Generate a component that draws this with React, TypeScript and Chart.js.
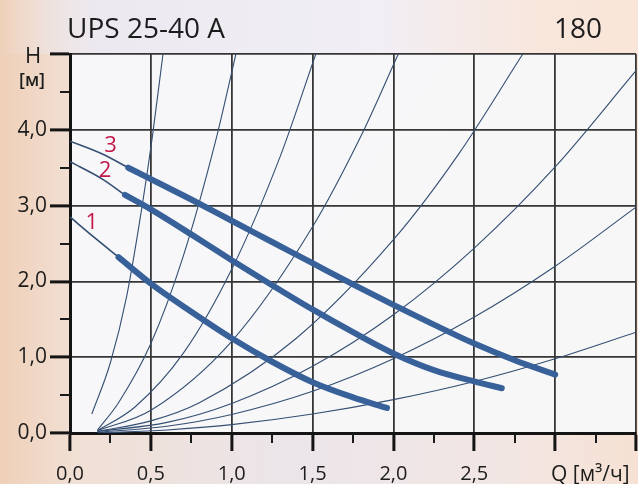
import React, { useEffect, useRef } from "react";
import { Chart, registerables } from "chart.js";

Chart.register(...registerables);

// ---------- text ----------
const titleText = "UPS 25-40 A";
const modelText = "180";
const yAxisName = "H";
const yAxisUnit = "[м]";
const xAxisName = "Q [м³/ч]";
const curveNames = ["1", "2", "3"];

// ---------- axes ----------
const xMin = 0;
const xMax = 3.5;
const yMin = 0;
const yMax = 5;
const xMinorTicks = [0.25, 0.75, 1.25, 1.75, 2.25, 2.75, 3.25];
const yMinorTicks = [0.5, 1.5, 2.5, 3.5, 4.5];

// ---------- pump curves (Q m3/h, H m) ----------
const c1ThinQ = [0, 0.15, 0.3];
const c1ThinH = [2.85, 2.58, 2.32];
const c1Q = [0.3, 0.5, 0.75, 1.0, 1.25, 1.5, 1.75, 1.96];
const c1H = [2.32, 1.97, 1.6, 1.25, 0.94, 0.67, 0.47, 0.33];

const c2ThinQ = [0, 0.2, 0.34];
const c2ThinH = [3.58, 3.35, 3.14];
const c2Q = [0.34, 0.5, 0.75, 1.0, 1.25, 1.5, 1.75, 2.0, 2.25, 2.5, 2.67];
const c2H = [3.14, 2.95, 2.62, 2.28, 1.95, 1.63, 1.33, 1.05, 0.83, 0.68, 0.59];

const c3ThinQ = [0, 0.2, 0.36];
const c3ThinH = [3.85, 3.68, 3.5];
const c3Q = [0.36, 0.5, 0.75, 1.0, 1.25, 1.5, 1.75, 2.0, 2.25, 2.5, 2.75, 3.0];
const c3H = [3.5, 3.35, 3.08, 2.8, 2.52, 2.24, 1.96, 1.69, 1.43, 1.18, 0.96, 0.77];

// curve number label anchors (Q, H)
const labelQ = [0.134, 0.216, 0.25];
const labelH = [2.79, 3.47, 3.8];

// ---------- system curves ----------
const s1Q = [0.135, 0.25, 0.35, 0.45, 0.51, 0.575];
const s1H = [0.25, 0.93, 1.8, 3.05, 3.92, 5.0];
const s2Q = [0.17, 0.3, 0.5, 0.7, 0.9, 1.026];
const s2H = [0.04, 0.4, 1.18, 2.33, 3.85, 5.0];
const s3Q = [0.17, 0.4, 0.7, 1.0, 1.3, 1.52];
const s3H = [0.03, 0.34, 1.05, 2.16, 3.65, 5.0];
const s4Q = [0.17, 0.5, 1.0, 1.5, 1.8, 2.03];
const s4H = [0.03, 0.3, 1.21, 2.72, 3.92, 5.0];
const s5Q = [0.17, 0.5, 0.8, 1.4, 2.0, 2.4, 2.8];
const s5H = [0.02, 0.16, 0.4, 1.25, 2.55, 3.67, 5.0];
const s6Q = [0.17, 0.6, 1.0, 1.5, 2.0, 2.5, 3.0, 3.5];
const s6H = [0.02, 0.14, 0.39, 0.88, 1.56, 2.44, 3.51, 4.78];
const s7Q = [0.17, 0.6, 1.0, 1.5, 2.0, 2.5, 3.0, 3.5];
const s7H = [0.01, 0.09, 0.245, 0.55, 0.98, 1.53, 2.2, 2.98];
const s8Q = [0.17, 0.6, 1.0, 1.5, 2.0, 2.5, 3.0, 3.5];
const s8H = [0.0, 0.04, 0.11, 0.25, 0.44, 0.68, 0.98, 1.33];

const sysQ = [s1Q, s2Q, s3Q, s4Q, s5Q, s6Q, s7Q, s8Q];
const sysH = [s1H, s2H, s3H, s4H, s5H, s6H, s7H, s8H];

const toPts = (q: number[], h: number[]) => q.map((v, i) => ({ x: v, y: h[i] }));
const fmt = (v: number) => v.toFixed(1).replace(".", ",");

const FONT = "'Open Sans', 'DejaVu Sans', sans-serif";
const THICK = "#38619a";
const THIN = "#344f72";

const decorPlugin = {
  id: "decor",
  beforeDraw(chart: any) {
    const { ctx, width, height, chartArea: a } = chart;
    ctx.save();
    const g = ctx.createLinearGradient(0, 0, width, 0);
    g.addColorStop(0, "#efd0b8");
    g.addColorStop(0.12, "#f1e0d5");
    g.addColorStop(0.45, "#ebe5ea");
    g.addColorStop(0.8, "#f2e6e3");
    g.addColorStop(1, "#f6e1d3");
    ctx.fillStyle = g;
    ctx.fillRect(0, 0, width, height);
    const g2 = ctx.createLinearGradient(0, 0, width, 0);
    g2.addColorStop(0, "rgba(236,234,244,0)");
    g2.addColorStop(0.15, "rgba(236,234,244,0.85)");
    g2.addColorStop(0.6, "rgba(242,240,247,0.85)");
    g2.addColorStop(0.85, "rgba(252,232,218,0.6)");
    g2.addColorStop(1, "rgba(252,232,218,0.6)");
    ctx.fillStyle = g2;
    ctx.fillRect(0, 0, width, a.top);
    const g3 = ctx.createLinearGradient(a.left, a.top, a.right, a.bottom);
    g3.addColorStop(0, "#f7f7fa");
    g3.addColorStop(1, "#f8f7f7");
    ctx.fillStyle = g3;
    ctx.fillRect(a.left, a.top, a.right - a.left, a.bottom - a.top);
    ctx.restore();
  },
  afterDraw(chart: any) {
    const { ctx, chartArea: a, scales } = chart;
    const xs = scales.x;
    const ys = scales.y;
    ctx.save();
    // minor ticks
    ctx.strokeStyle = "#1a1a1a";
    ctx.lineWidth = 2;
    xMinorTicks.forEach((q) => {
      const px = Math.round(xs.getPixelForValue(q));
      ctx.beginPath();
      ctx.moveTo(px, a.bottom);
      ctx.lineTo(px, a.bottom + 10);
      ctx.stroke();
    });
    yMinorTicks.forEach((h) => {
      const py = Math.round(ys.getPixelForValue(h));
      ctx.beginPath();
      ctx.moveTo(a.left - 10, py);
      ctx.lineTo(a.left, py);
      ctx.stroke();
    });
    // title
    ctx.fillStyle = "#1c1c1c";
    ctx.textBaseline = "alphabetic";
    ctx.font = `28px ${FONT}`;
    ctx.textAlign = "left";
    ctx.fillText(titleText, 67, 38);
    ctx.textAlign = "right";
    ctx.fillText(modelText, 602, 38);
    // y axis name
    ctx.textAlign = "center";
    ctx.font = `22px ${FONT}`;
    ctx.fillText(yAxisName, 33, 63);
    ctx.font = `600 18px ${FONT}`;
    ctx.fillText(yAxisUnit, 32, 86);
    // x axis name
    ctx.textAlign = "left";
    ctx.font = `21px ${FONT}`;
    ctx.fillText(xAxisName, 551, 481);
    // curve numbers
    ctx.fillStyle = "#c2184a";
    ctx.font = `22px ${FONT}`;
    ctx.textAlign = "center";
    ctx.textBaseline = "middle";
    curveNames.forEach((n, i) => {
      ctx.fillText(n, xs.getPixelForValue(labelQ[i]), ys.getPixelForValue(labelH[i]) + 1);
    });
    ctx.restore();
  },
};

export default function App() {
  const ref = useRef<HTMLCanvasElement | null>(null);

  useEffect(() => {
    if (!ref.current) return;
    const thick = (q: number[], h: number[]) => ({
      data: toPts(q, h),
      borderColor: THICK,
      borderWidth: 6,
      borderCapStyle: "round" as const,
      pointRadius: 0,
      cubicInterpolationMode: "monotone" as const,
      order: 0,
    });
    const thinPump = (q: number[], h: number[]) => ({
      data: toPts(q, h),
      borderColor: THIN,
      borderWidth: 1.6,
      pointRadius: 0,
      cubicInterpolationMode: "monotone" as const,
      order: 1,
    });
    const sys = sysQ.map((q, i) => ({
      data: toPts(q, sysH[i]),
      borderColor: THIN,
      borderWidth: 1.1,
      pointRadius: 0,
      cubicInterpolationMode: "monotone" as const,
      order: 2,
    }));

    const chart = new Chart(ref.current, {
      type: "line",
      data: {
        datasets: [
          thick(c1Q, c1H),
          thick(c2Q, c2H),
          thick(c3Q, c3H),
          thinPump(c1ThinQ, c1ThinH),
          thinPump(c2ThinQ, c2ThinH),
          thinPump(c3ThinQ, c3ThinH),
          ...sys,
        ] as any,
      },
      options: {
        animation: false,
        responsive: true,
        maintainAspectRatio: false,
        layout: { padding: { top: 54, right: 2, left: 0, bottom: 0 } },
        plugins: {
          legend: { display: false },
          tooltip: { enabled: false },
          title: { display: false },
        },
        scales: {
          x: {
            type: "linear",
            min: xMin,
            max: xMax,
            afterFit: (s: any) => {
              s.height = 51;
              s.paddingLeft = 0;
              s.paddingRight = 0;
            },
            ticks: {
              stepSize: 0.5,
              autoSkip: false,
              maxRotation: 0,
              padding: 11,
              color: "#1c1c1c",
              font: { family: FONT, size: 20 },
              callback: (v: any) => (Number(v) >= 3 ? "" : fmt(Number(v))),
            },
            grid: {
              color: "#363636",
              lineWidth: 1.8,
              tickLength: 18,
              tickWidth: 3,
              tickColor: "#141414",
            },
            border: { display: true, color: "#141414", width: 3 },
          },
          y: {
            type: "linear",
            min: yMin,
            max: yMax,
            afterFit: (s: any) => {
              s.width = 70;
              s.paddingTop = 0;
              s.paddingBottom = 0;
            },
            ticks: {
              stepSize: 1,
              padding: 3,
              color: "#1c1c1c",
              font: { family: FONT, size: 21 },
              callback: (v: any) => (Number(v) >= 5 ? "" : fmt(Number(v))),
            },
            grid: {
              color: "#363636",
              lineWidth: 1.8,
              tickLength: 20,
              tickWidth: 3,
              tickColor: "#141414",
            },
            border: { display: true, color: "#141414", width: 3 },
          },
        },
      },
      plugins: [decorPlugin],
    });
    return () => chart.destroy();
  }, []);

  return (
    <div style={{ position: "fixed", left: 0, top: 0, width: 638, height: 484 }}>
      <canvas ref={ref} />
    </div>
  );
}
